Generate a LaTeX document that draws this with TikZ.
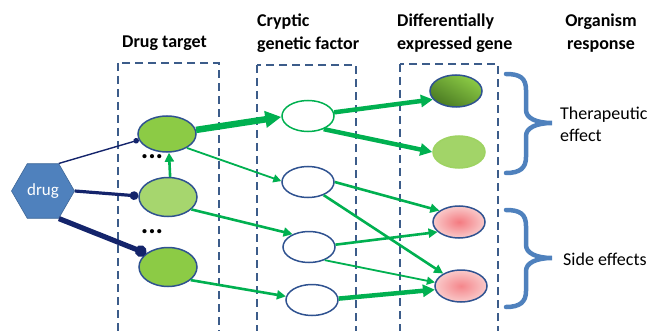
\documentclass[tikz,border=0pt]{standalone}
\usepackage{fontspec}
\setmainfont{Carlito}
\usetikzlibrary{shapes.geometric,arrows.meta}
\definecolor{arrgreen}{HTML}{00B050}
\definecolor{nodeblue}{HTML}{2F5290}
\definecolor{boxblue}{HTML}{3C5C8A}
\definecolor{hexblue}{HTML}{4F81BD}
\definecolor{navy}{HTML}{14246B}
\definecolor{tgreen}{HTML}{8CCB45}
\definecolor{tlight}{HTML}{A6D66E}
\definecolor{darkg}{HTML}{4A7A22}
\definecolor{pinkin}{HTML}{F47A80}
\definecolor{pinkout}{HTML}{F9CACA}
\definecolor{bracecol}{HTML}{4F81BD}
\begin{document}
\begin{tikzpicture}[x=1pt,y=-1pt,
  hdr/.style={font=\bfseries\fontsize{18}{23}\selectfont, align=left, inner sep=0pt},
  lbl/.style={font=\fontsize{18}{22}\selectfont, align=left, inner sep=0pt},
  dbox/.style={draw=boxblue, line width=1.8pt, dash pattern=on 8pt off 5pt},
  tgt/.style={ellipse, draw=nodeblue, line width=1.5pt, minimum width=58pt, minimum height=36pt, inner sep=0pt},
  cry/.style={ellipse, draw=nodeblue, fill=white, line width=1.5pt, minimum width=52pt, minimum height=31pt, inner sep=0pt},
  gen/.style={ellipse, draw=nodeblue, line width=1.5pt, minimum width=52pt, minimum height=32pt, inner sep=0pt},
  dline/.style={draw=navy},
  garr/.style={draw=arrgreen, line width=2.6pt, -{Triangle[length=9pt,width=9pt]}},
  garrthin/.style={draw=arrgreen, line width=1.8pt, -{Triangle[length=8pt,width=8pt]}},
  garrthick/.style={draw=arrgreen, line width=4.5pt, -{Triangle[length=12pt,width=12pt]}},
  garrhuge/.style={draw=arrgreen, line width=6.5pt, -{Triangle[length=16pt,width=16pt]}},
  brace/.style={draw=bracecol, line width=4.5pt, line cap=round},
  dots/.style={font=\bfseries\fontsize{28}{28}\selectfont, inner sep=0pt}
]
\useasboundingbox (0,0) rectangle (652,331);
\clip (0,0) rectangle (652,331);

% dashed boxes
\draw[dbox] (118,63) rectangle (219,345);
\draw[dbox] (257,65) rectangle (356,345);
\draw[dbox] (400,64) rectangle (498,345);

% headers
\node[hdr, anchor=base west] (h1) at (122,48) {Drug target};
\node[hdr, anchor=west] (h2) at (257,33) {Cryptic\\genetic factor};
\node[hdr, anchor=west] (h3) at (397,33) {Differentially\\expressed gene};
\node[hdr, anchor=center, align=center] (h4) at (601,33) {Organism\\response};

% drug
\node[regular polygon, regular polygon sides=6, minimum size=63pt, inner sep=0pt,
      fill=hexblue, draw=hexblue!80!black, line width=0.6pt,
      text=white, font=\fontsize{17}{20}\selectfont] (drug) at (43,191) {drug};

% drug targets
\node[tgt, fill=tgreen] (T1) at (167,134) {};
\node[tgt, fill=tlight, minimum height=39pt] (T2) at (168,197) {};
\node[tgt, fill=tgreen, minimum height=39pt] (T3) at (168,267) {};
\node[dots] (d1) at (152,157) {...};
\node[dots] (d2) at (152,232) {...};

% cryptic factors
\node[cry, draw=arrgreen] (C1) at (308,116) {};
\node[cry] (C2) at (308,182) {};
\node[cry] (C3) at (309,247) {};
\node[cry] (C4) at (312,300) {};

% genes
\node[gen, left color=tgreen, right color=darkg, shading angle=-30] (G1) at (456,91) {};
\node[gen, fill=tlight!85!tgreen, draw=tlight!70!tgreen] (G2) at (459,152) {};
\node[gen, inner color=pinkin, outer color=pinkout] (G3) at (459,222) {};
\node[gen, inner color=pinkin!85!pinkout, outer color=pinkout] (G4) at (461,286) {};

% drug to targets
\draw[dline, line width=1.4pt, -{Circle[length=5.5pt]}] (drug.60) -- (T1.192);
\draw[dline, line width=3.2pt, -{Circle[length=8.5pt]}] (drug.0) -- (T2.178);
\draw[dline, line width=5.2pt, -{Circle[length=11.5pt]}] (drug.-60) -- (T3.148);

% target arrows
\draw[garrhuge] (T1.8) -- (C1.182);
\draw[garrthin] (T1.-35) -- (C2.178);
\draw[garr] (T2.84) -- (T1.-84);
\draw[garr] (T2.-28) -- (C3.142);
\draw[garr] (T3.-30) -- (C4.172);

% cryptic to genes
\draw[garrthick] (C1.8) -- (G1.200);
\draw[garrthick] (C1.-40) -- (G2.180);
\draw[garr] (C2.0) -- (G3.150);
\draw[garr] (C2.-40) -- (G4.145);
\draw[garr] (C3.5) -- (G3.205);
\draw[garrthin] (C3.-40) -- (G4.172);
\draw[garrthick] (C4.3) -- (G4.188);

% braces
\draw[brace] (506,74) .. controls (520,74) and (526,78) .. (526,90) -- (526,110)
  .. controls (526,118) and (536,123) .. (552,123)
  .. controls (536,123) and (526,128) .. (526,136) -- (526,157)
  .. controls (526,168) and (520,173) .. (506,173);
\draw[brace] (506,210) .. controls (520,210) and (526,214) .. (526,226) -- (526,245)
  .. controls (526,253) and (536,258) .. (552,258)
  .. controls (536,258) and (526,263) .. (526,271) -- (526,291)
  .. controls (526,302) and (520,307) .. (506,307);

% response labels
\node[lbl, anchor=west] (r1) at (560,124) {Therapeutic\\effect};
\node[lbl, anchor=west] (r2) at (563,259) {Side effects};
\end{tikzpicture}
\end{document}
